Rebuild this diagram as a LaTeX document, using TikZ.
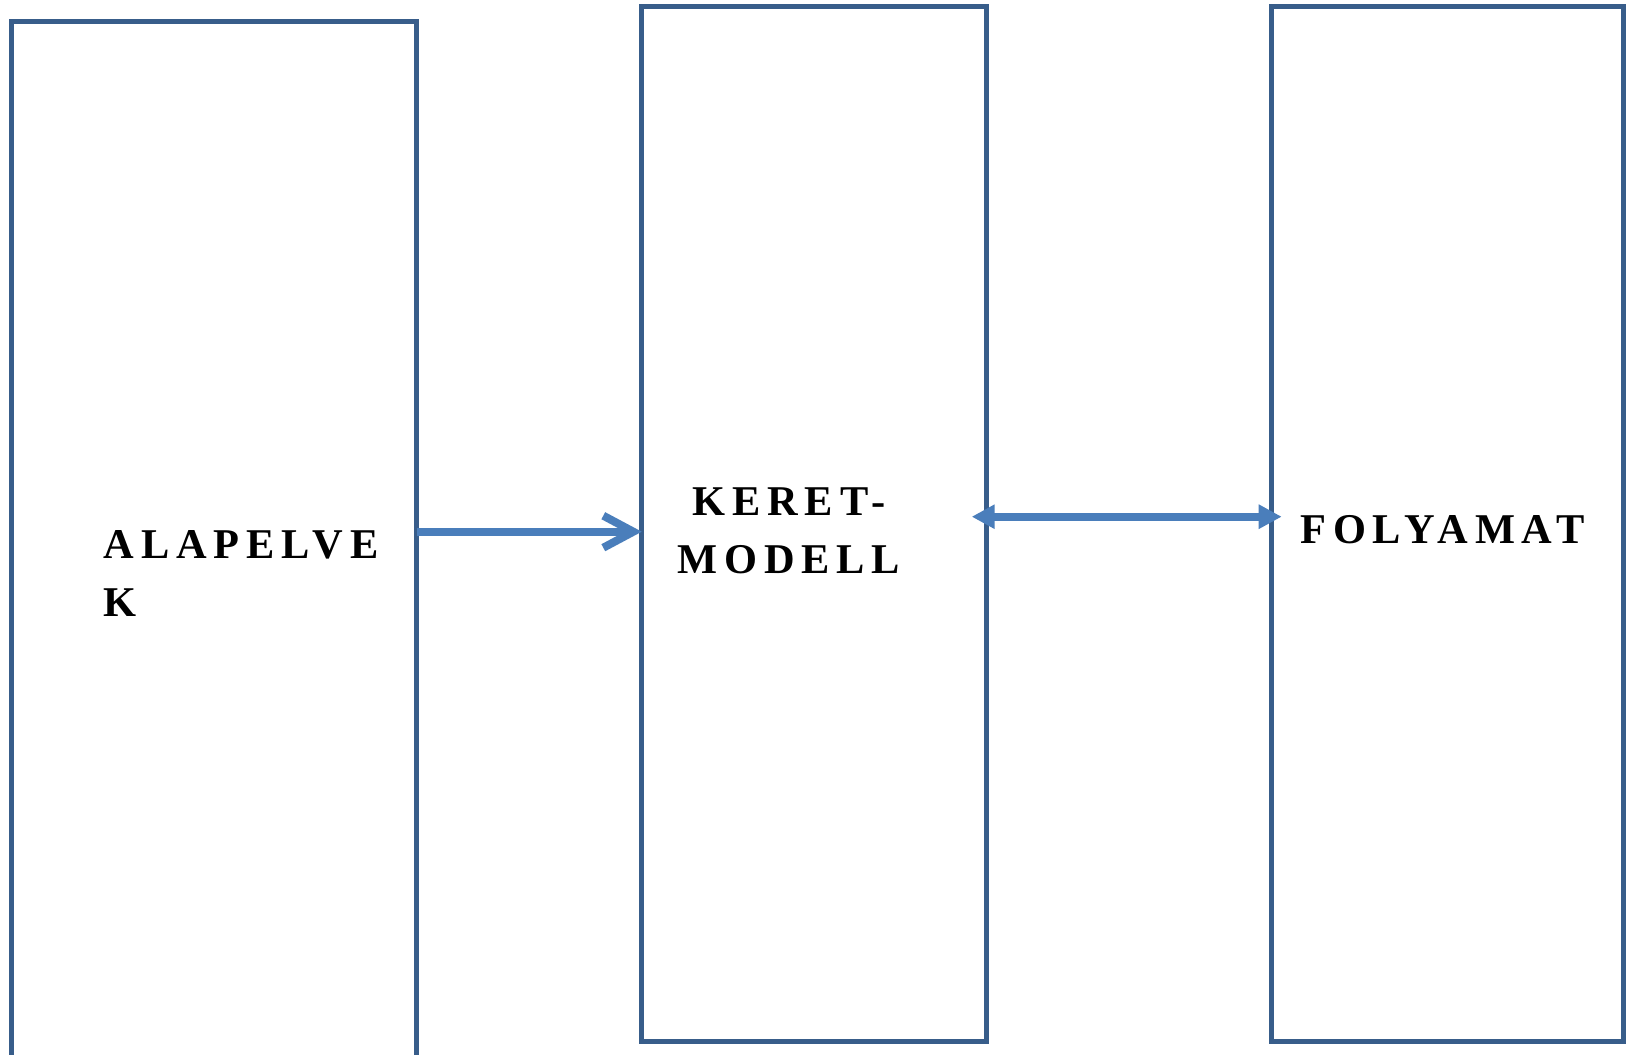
\documentclass[tikz,border=0pt]{standalone}
\usepackage{fontspec}
\setmainfont{Liberation Serif}
\usetikzlibrary{arrows.meta,calc}
\definecolor{boxblue}{RGB}{56,93,138}
\definecolor{arrblue}{RGB}{74,126,187}
\tikzset{
  box/.style={draw=boxblue, line width=2.5pt, rectangle, inner sep=0pt, outer sep=0pt},
  lbl/.style={inner sep=0pt, outer sep=0pt, font=\fontsize{21.2pt}{29pt}\selectfont\bfseries\addfontfeatures{LetterSpace=16}},
  openarr/.style={draw=arrblue, line width=4pt, -{Straight Barb[length=15pt,width=16pt]}},
  duoarr/.style={draw=arrblue, line width=4pt, {Triangle[length=11.5pt,width=11.5pt]}-{Triangle[length=11.5pt,width=11.5pt]}}
}
\begin{document}
\begin{tikzpicture}[x=0.5pt,y=-0.5pt]
\useasboundingbox (0,0) rectangle (1630,1055);
\fill[white] (0,0) rectangle (1630,1055);
\node[box, minimum width=202.45pt, minimum height=521.6pt] (alap) at (214.25,543.4) {};
\node[box, minimum width=172.45pt, minimum height=517.65pt] (keret) at (814.25,524.15) {};
\node[box, minimum width=175.65pt, minimum height=517.65pt] (foly) at (1447.35,524.15) {};
\node[lbl, anchor=base west, align=left] (alaptxt) at (104,616) {ALAPELVE\\K};
\node[lbl, anchor=base, align=center] (kerettxt) at (789,573.3) {KERET-\\MODELL};
\node[lbl, anchor=base west] (folytxt) at (1300.5,543.3) {FOLYAMAT};
\coordinate (y1) at (0,531.7);
\coordinate (y2) at (0,516.7);
\draw[openarr] (alap.east |- y1) -- (keret.west |- y1);
\draw[duoarr] ($(keret.east |- y2)+(-15,0)$) -- ($(foly.west |- y2)+(10,0)$);
\end{tikzpicture}
\end{document}
